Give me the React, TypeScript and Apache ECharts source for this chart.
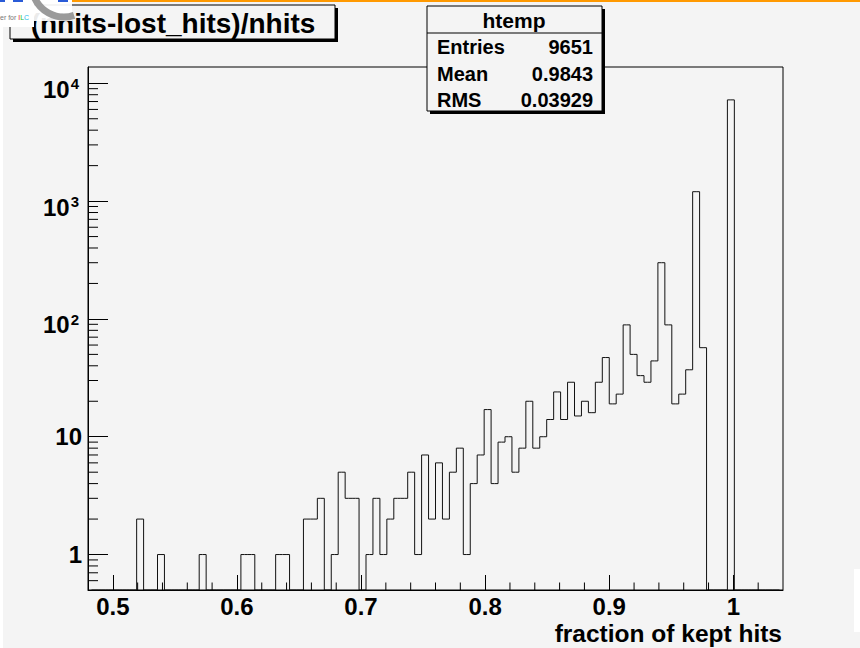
import React, { useEffect, useRef } from "react";
import * as echarts from "echarts";

// ---- histogram binning (axis range of the ROOT histogram) ----
const X_MIN = 0.48;
const X_MAX = 1.04;
const BIN_WIDTH = 0.0056;
const Y_MIN = 0.5;
const Y_MAX = 13750;

// ---- bin contents (100 bins) ----
const counts: number[] = [
  0, 0, 0, 0, 0, 0, 0, 2, 0, 0,
  1, 0, 0, 0, 0, 0, 1, 0, 0, 0,
  0, 0, 1, 1, 0, 0, 0, 1, 1, 0,
  0, 2, 2, 3, 0, 1, 5, 3, 3, 0,
  1, 3, 1, 2, 3, 3, 5, 1, 7, 2,
  6, 2, 5, 8, 1, 4, 7, 17, 4, 9,
  10, 5, 8, 20, 8, 10, 14, 24, 14, 29,
  15, 20, 16, 29, 47, 19, 23, 89, 50, 33,
  29, 44, 300, 89, 19, 23, 37, 1202, 57, 0,
  0, 0, 7230, 0, 0, 0, 0, 0, 0, 0,
];

// ---- texts ----
const TITLE = "(nhits-lost_hits)/nhits";
const X_TITLE = "fraction of kept hits";
const STATS_NAME = "htemp";
const statsLabels = ["Entries", "Mean", "RMS"];
const statsValues = ["9651", "0.9843", "0.03929"];

// ---- minor tick positions ----
const yMinorTicks = [
  0.6, 0.7, 0.8, 0.9,
  2, 3, 4, 5, 6, 7, 8, 9,
  20, 30, 40, 50, 60, 70, 80, 90,
  200, 300, 400, 500, 600, 700, 800, 900,
  2000, 3000, 4000, 5000, 6000, 7000, 8000, 9000,
];
const xMinorTicks = [
  0.52, 0.54, 0.56, 0.58,
  0.62, 0.64, 0.66, 0.68,
  0.72, 0.74, 0.76, 0.78,
  0.82, 0.84, 0.86, 0.88,
  0.92, 0.94, 0.96, 0.98,
  1.02,
];

const FONT = '"Liberation Sans", Arial, Helvetica, sans-serif';
const BG = "#f4f4f4";

export default function App() {
  const ref = useRef<HTMLDivElement>(null);

  useEffect(() => {
    if (!ref.current) return;
    const chart = echarts.init(ref.current, undefined, { renderer: "svg" });

    const histData = counts.map((c, i) => [
      X_MIN + (i + 0.5) * BIN_WIDTH,
      c > 0 ? c : Y_MIN,
    ]);

    const statsRowsY = [47, 74, 100];

    const option: any = {
      animation: false,
      backgroundColor: BG,
      grid: {
        left: 88,
        right: 77,
        top: 67,
        bottom: 58,
        show: true,
        borderColor: "#000",
        borderWidth: 1,
        backgroundColor: "transparent",
        containLabel: false,
      },
      xAxis: {
        type: "value",
        min: X_MIN,
        max: X_MAX,
        splitNumber: 5,
        axisLine: { show: true, onZero: false, lineStyle: { color: "#000", width: 1 } },
        axisTick: { show: true, inside: true, length: 15, lineStyle: { color: "#000", width: 1 } },
        splitLine: { show: false },
        axisLabel: {
          color: "#000",
          fontFamily: FONT,
          fontWeight: "bold",
          fontSize: 24,
          margin: 4,
          showMinLabel: false,
          showMaxLabel: false,
          formatter: (v: number) => {
            const t = v * 10;
            if (Math.abs(t - Math.round(t)) > 1e-6) return "";
            return String(parseFloat(v.toFixed(1)));
          },
        },
      },
      yAxis: {
        type: "log",
        logBase: 10,
        min: Y_MIN,
        max: Y_MAX,
        axisLine: { show: true, lineStyle: { color: "#000", width: 1 } },
        axisTick: { show: true, inside: true, length: 20, lineStyle: { color: "#000", width: 1 } },
        splitLine: { show: false },
        axisLabel: {
          color: "#000",
          fontFamily: FONT,
          fontWeight: "bold",
          fontSize: 24,
          margin: 6,
          showMinLabel: false,
          showMaxLabel: false,
          formatter: (v: number) => {
            const lg = Math.log10(v);
            const e = Math.round(lg);
            if (Math.abs(lg - e) > 1e-6) return "";
            if (e === 0) return "1";
            if (e === 1) return "10";
            return "{b|10}{s|" + e + "}";
          },
          rich: {
            b: {
              fontFamily: FONT,
              fontWeight: "bold",
              fontSize: 24,
              lineHeight: 24,
              padding: [12, 0, 0, 0],
              color: "#000",
            },
            s: {
              fontFamily: FONT,
              fontWeight: "bold",
              fontSize: 15,
              lineHeight: 15,
              verticalAlign: "top",
              padding: [5, 3, 0, 1],
              color: "#000",
            },
          },
        },
      },
      series: [
        {
          type: "line",
          step: "middle",
          data: histData,
          symbol: "none",
          lineStyle: { color: "#111", width: 1 },
          silent: true,
          z: 3,
        },
        {
          type: "custom",
          silent: true,
          z: 4,
          data: yMinorTicks.map((v) => [X_MIN, v]),
          renderItem: (params: any, api: any) => {
            const p = api.coord([api.value(0), api.value(1)]);
            return {
              type: "line",
              shape: { x1: p[0], y1: p[1], x2: p[0] + 10, y2: p[1] },
              style: { stroke: "#000", lineWidth: 1 },
            };
          },
        },
        {
          type: "custom",
          silent: true,
          z: 4,
          data: xMinorTicks.map((v) => [v, Y_MIN]),
          renderItem: (params: any, api: any) => {
            const p = api.coord([api.value(0), api.value(1)]);
            return {
              type: "line",
              shape: { x1: p[0], y1: p[1], x2: p[0], y2: p[1] - 7.5 },
              style: { stroke: "#000", lineWidth: 1 },
            };
          },
        },
      ],
      graphic: [
        // x axis title
        {
          type: "text",
          z: 50,
          x: 782,
          y: 633,
          style: {
            text: X_TITLE,
            fill: "#000",
            font: 'bold 24.5px "Liberation Sans", Arial, sans-serif',
            align: "right",
            verticalAlign: "middle",
            textAlign: "right",
            textVerticalAlign: "middle",
          },
        },
        // title box
        { type: "rect", z: 50, shape: { x: 13, y: 8, width: 325, height: 34 }, style: { fill: "#000" } },
        {
          type: "rect",
          z: 51,
          shape: { x: 10, y: 5, width: 325, height: 34 },
          style: { fill: BG, stroke: "#000", lineWidth: 1 },
        },
        {
          type: "text",
          z: 52,
          x: 173,
          y: 23,
          style: {
            text: TITLE,
            fill: "#000",
            font: 'bold 28px "Liberation Sans", Arial, sans-serif',
            align: "center",
            verticalAlign: "middle",
            textAlign: "center",
            textVerticalAlign: "middle",
          },
        },
        // stats box
        { type: "rect", z: 50, shape: { x: 430, y: 9, width: 175, height: 105 }, style: { fill: "#000" } },
        {
          type: "rect",
          z: 51,
          shape: { x: 427, y: 6, width: 175, height: 105 },
          style: { fill: BG, stroke: "#000", lineWidth: 1 },
        },
        {
          type: "line",
          z: 52,
          shape: { x1: 427, y1: 33, x2: 602, y2: 33 },
          style: { stroke: "#000", lineWidth: 1 },
        },
        {
          type: "text",
          z: 52,
          x: 514,
          y: 20,
          style: {
            text: STATS_NAME,
            fill: "#000",
            font: 'bold 21px "Liberation Sans", Arial, sans-serif',
            align: "center",
            verticalAlign: "middle",
            textAlign: "center",
            textVerticalAlign: "middle",
          },
        },
        ...statsLabels.map((t, i) => ({
          type: "text",
          z: 52,
          x: 437,
          y: statsRowsY[i],
          style: {
            text: t,
            fill: "#000",
            font: 'bold 20px "Liberation Sans", Arial, sans-serif',
            align: "left",
            verticalAlign: "middle",
            textAlign: "left",
            textVerticalAlign: "middle",
          },
        })),
        ...statsValues.map((t, i) => ({
          type: "text",
          z: 52,
          x: 593,
          y: statsRowsY[i],
          style: {
            text: t,
            fill: "#000",
            font: 'bold 20px "Liberation Sans", Arial, sans-serif',
            align: "right",
            verticalAlign: "middle",
            textAlign: "right",
            textVerticalAlign: "middle",
          },
        })),
        // page decorations (screenshot leftovers)
        { type: "rect", z: 60, shape: { x: 0, y: 0, width: 3, height: 648 }, style: { fill: "#fff" } },
        { type: "rect", z: 60, shape: { x: 854, y: 569, width: 6, height: 63 }, style: { fill: "#fff" } },
        { type: "rect", z: 60, shape: { x: 72, y: 0, width: 788, height: 2 }, style: { fill: "#ff9900" } },
        // logo pieces
        { type: "rect", z: 60, shape: { x: 0, y: 0, width: 72, height: 21 }, style: { fill: "rgba(255,255,255,0.92)" } },
        { type: "rect", z: 60, shape: { x: 0, y: 0, width: 34, height: 27 }, style: { fill: "#fff" } },
        {
          type: "arc",
          z: 61,
          shape: { cx: 64, cy: -15, r: 32, startAngle: 1.25, endAngle: 2.9, clockwise: true },
          style: { stroke: "#9a9a9a", lineWidth: 7, fill: "none" },
        },
        { type: "rect", z: 61, shape: { x: 0, y: 0, width: 5, height: 2 }, style: { fill: "#2a5bd7" } },
        { type: "rect", z: 61, shape: { x: 13, y: 0, width: 10, height: 2 }, style: { fill: "#2a5bd7" } },
        { type: "rect", z: 61, shape: { x: 58, y: 0, width: 10, height: 2 }, style: { fill: "#2a5bd7" } },
        {
          type: "text",
          z: 62,
          x: 0,
          y: 17,
          style: {
            text: "{g|er for }{r|I}{gr|L}{c|C}",
            font: '7px "Liberation Sans", sans-serif',
            align: "left",
            verticalAlign: "middle",
            textAlign: "left",
            textVerticalAlign: "middle",
            rich: {
              g: { fill: "#777", color: "#777", fontSize: 7, fontFamily: "Liberation Sans" },
              r: { fill: "#e02020", color: "#e02020", fontSize: 7, fontFamily: "Liberation Sans" },
              gr: { fill: "#22bb33", color: "#22bb33", fontSize: 7, fontFamily: "Liberation Sans" },
              c: { fill: "#22bbee", color: "#22bbee", fontSize: 7, fontFamily: "Liberation Sans" },
            },
          },
        },
      ],
    };

    chart.setOption(option);
    return () => {
      chart.dispose();
    };
  }, []);

  return (
    <div
      ref={ref}
      style={{ position: "fixed", left: 0, top: 0, width: 860, height: 648 }}
    />
  );
}
